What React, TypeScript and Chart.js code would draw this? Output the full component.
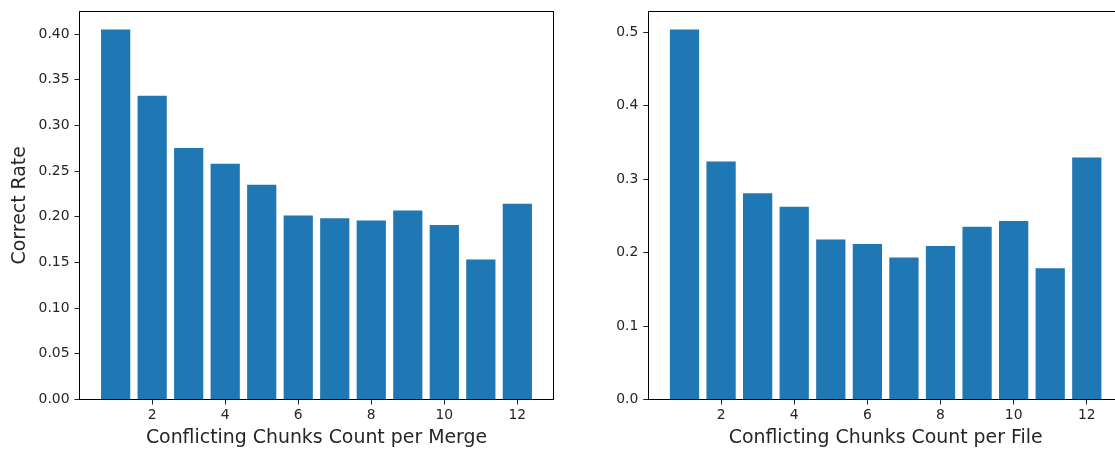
import React, { useEffect, useRef } from "react";
import { Chart, registerables } from "chart.js";

Chart.register(...registerables);

const chunkCounts = [1, 2, 3, 4, 5, 6, 7, 8, 9, 10, 11, 12];
const rateByMerge = [0.405, 0.3325, 0.2752, 0.2581, 0.2352, 0.2013, 0.1984, 0.1958, 0.207, 0.191, 0.1532, 0.2144];
const rateByFile = [0.5036, 0.3239, 0.2808, 0.2622, 0.2178, 0.2118, 0.1933, 0.209, 0.235, 0.243, 0.1787, 0.3294];
const xTickValues = [2, 4, 6, 8, 10, 12];
const mergeYTicks = [0, 0.05, 0.1, 0.15, 0.2, 0.25, 0.3, 0.35, 0.4];
const fileYTicks = [0, 0.1, 0.2, 0.3, 0.4, 0.5];

const FONT = "'DejaVu Sans', sans-serif";
const TEXT = "#262626";
const BAR = "#1f77b4";

const align = (v: number) => Math.round(v - 0.5) + 0.5;

const framePlugin = {
  id: "frame",
  afterDraw(chart: any) {
    const { ctx, chartArea } = chart;
    ctx.save();
    ctx.strokeStyle = "#000";
    ctx.lineWidth = 1;
    const l = align(chartArea.left);
    const t = align(chartArea.top);
    const r = align(chartArea.right);
    const b = align(chartArea.bottom);
    ctx.strokeRect(l, t, r - l, b - t);
    ctx.restore();
  },
};

type PanelProps = {
  values: number[];
  yTicks: number[];
  decimals: number;
  xTitle: string;
  yTitle?: string;
  width: number;
  yAxisWidth: number;
  padRight: number;
  left: number;
};

function Panel(p: PanelProps) {
  const ref = useRef<HTMLCanvasElement | null>(null);
  useEffect(() => {
    if (!ref.current) return;
    const ymax = Math.max(...p.values) * 1.05;
    const chart = new Chart(ref.current, {
      type: "bar",
      data: {
        datasets: [
          {
            data: chunkCounts.map((x, i) => ({ x, y: p.values[i] })),
            backgroundColor: BAR,
            borderWidth: 0,
            barPercentage: 0.8,
            categoryPercentage: 1.0,
          },
        ],
      },
      options: {
        responsive: false,
        animation: false,
        devicePixelRatio: 1,
        layout: { padding: { top: 11, right: p.padRight, left: 0, bottom: 0 } },
        plugins: { legend: { display: false }, tooltip: { enabled: false } },
        scales: {
          x: {
            type: "linear",
            offset: false,
            min: 0.01,
            max: 12.99,
            grid: { display: true, drawOnChartArea: false, drawTicks: true, tickLength: 5, tickColor: "#222", offset: false },
            border: { display: true, color: "#000", width: 1 },
            afterBuildTicks: (scale: any) => {
              scale.ticks = xTickValues.map((v) => ({ value: v }));
            },
            afterFit: (scale: any) => {
              scale.height = 52.5;
              scale.paddingLeft = 0;
              scale.paddingRight = 0;
            },
            ticks: {
              color: TEXT,
              font: { family: FONT, size: 13.9 },
              padding: 3,
              maxRotation: 0,
              autoSkip: false,
              callback: (v: any) => String(v),
            },
            title: {
              display: true,
              text: p.xTitle,
              color: TEXT,
              font: { family: FONT, size: 18.9 },
              padding: { top: 0, bottom: 2.3 },
            },
          },
          y: {
            type: "linear",
            min: 0,
            max: ymax,
            grid: { display: true, drawOnChartArea: false, drawTicks: true, tickLength: 5, tickColor: "#222" },
            border: { display: true, color: "#000", width: 1 },
            afterBuildTicks: (scale: any) => {
              scale.ticks = p.yTicks.map((v) => ({ value: v }));
            },
            afterFit: (scale: any) => {
              scale.width = p.yAxisWidth;
              scale.paddingTop = 0;
              scale.paddingBottom = 0;
            },
            ticks: {
              color: TEXT,
              font: { family: FONT, size: 13.9 },
              padding: 5,
              autoSkip: false,
              callback: (v: any) => Number(v).toFixed(p.decimals),
            },
            title: {
              display: !!p.yTitle,
              text: p.yTitle || "",
              color: TEXT,
              font: { family: FONT, size: 18.9 },
              padding: { top: 9, bottom: 0 },
            },
          },
        },
      },
      plugins: [framePlugin],
    } as any);
    return () => chart.destroy();
  }, []);
  return (
    <canvas
      ref={ref}
      width={p.width}
      height={452}
      style={{ position: "absolute", left: p.left, top: 0, width: p.width, height: 452 }}
    />
  );
}

export default function App() {
  return (
    <div
      style={{
        position: "fixed",
        left: 0,
        top: 0,
        width: 1115,
        height: 452,
        overflow: "hidden",
        background: "#fff",
      }}
    >
      <Panel
        values={rateByMerge}
        yTicks={mergeYTicks}
        decimals={2}
        xTitle="Conflicting Chunks Count per Merge"
        yTitle="Correct Rate"
        width={560}
        yAxisWidth={79.5}
        padRight={6.5}
        left={0}
      />
      <Panel
        values={rateByFile}
        yTicks={fileYTicks}
        decimals={1}
        xTitle="Conflicting Chunks Count per File"
        width={570}
        yAxisWidth={88.3}
        padRight={7}
        left={560}
      />
    </div>
  );
}
